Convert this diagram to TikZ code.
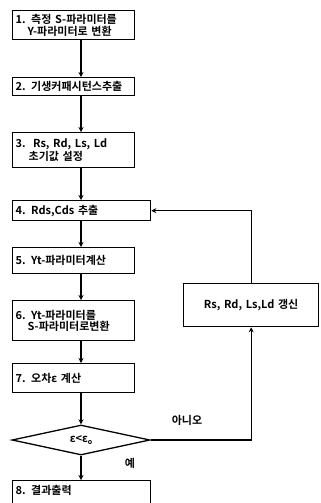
\documentclass[tikz,border=0pt]{standalone}
\usepackage{fontspec}
\newfontfamily\krfont{Noto Sans CJK KR Bold}
\usetikzlibrary{arrows.meta,shapes.geometric}
\newcommand{\txtfont}{\krfont\fontsize{11}{11.5}\selectfont}
\tikzset{
  box/.style={draw, line width=1.3pt, rectangle, anchor=north west, inner xsep=3pt, inner ysep=0pt, align=left, font=\txtfont},
  flow/.style={line width=1.3pt, -{Stealth[length=5pt,width=5pt]}},
  lbl/.style={font=\txtfont, inner sep=0pt}
}
\begin{document}
\begin{tikzpicture}[x=1pt,y=-1pt]
\useasboundingbox (0,0) rectangle (321,503);
\node[box, minimum width=122pt, minimum height=29pt, text width=116pt] (b1) at (12,10)
  {1. 측정 S-파라미터를\\\hspace*{12pt}Y-파라미터로 변환};
\node[box, minimum width=122pt, minimum height=18pt, text width=116pt] (b2) at (12,77)
  {2. 기생커패시턴스추출};
\node[box, minimum width=122pt, minimum height=35pt, text width=116pt] (b3) at (12,132)
  {3.\ \ Rs, Rd, Ls, Ld\\\hspace*{13pt}초기값 설정};
\node[box, minimum width=138pt, minimum height=20pt, text width=132pt] (b4) at (12,200)
  {4. Rds,Cds 추출};
\node[box, minimum width=122pt, minimum height=26pt, text width=116pt] (b5) at (12,247)
  {5. Yt-파라미터계산};
\node[box, minimum width=122pt, minimum height=40pt, text width=116pt] (b6) at (12,300)
  {6. Yt-파라미터를\\\hspace*{12pt}S-파라미터로변환};
\node[box, minimum width=122pt, minimum height=29pt, text width=116pt] (b7) at (12,363)
  {7. 오차ε 계산};
\node[draw, line width=1.3pt, diamond, aspect=4.6, minimum width=138pt, minimum height=30pt, inner sep=0pt, font=\txtfont] (d) at (81,440)
  {ε<ε\raisebox{-1.5pt}{\scriptsize o}};
\node[box, minimum width=138pt, minimum height=32pt, text width=132pt, text depth=14pt] (b8) at (12,480)
  {8. 결과출력};
\node[box, minimum width=135pt, minimum height=43pt, align=center, text width=129pt] (r) at (183,283)
  {Rs, Rd, Ls,Ld 갱신};
\coordinate (c1) at (81,0);
\draw[flow] (b1.south -| c1) -- (b2.north -| c1);
\draw[flow] (b2.south -| c1) -- (b3.north -| c1);
\draw[flow] (b3.south -| c1) -- (b4.north -| c1);
\draw[flow] (b4.south -| c1) -- (b5.north -| c1);
\draw[flow] (b5.south -| c1) -- (b6.north -| c1);
\draw[flow] (b6.south -| c1) -- (b7.north -| c1);
\draw[flow] (b7.south -| c1) -- (d.north);
\draw[flow] (d.south) -- (b8.north -| d.south);
\draw[flow] (d.east) -| (r.south);
\draw[flow] (r.north) |- (b4.east);
\node[lbl] (no) at (187,420) {아니오};
\node[lbl] (yes) at (130,463) {예};
\end{tikzpicture}
\end{document}
